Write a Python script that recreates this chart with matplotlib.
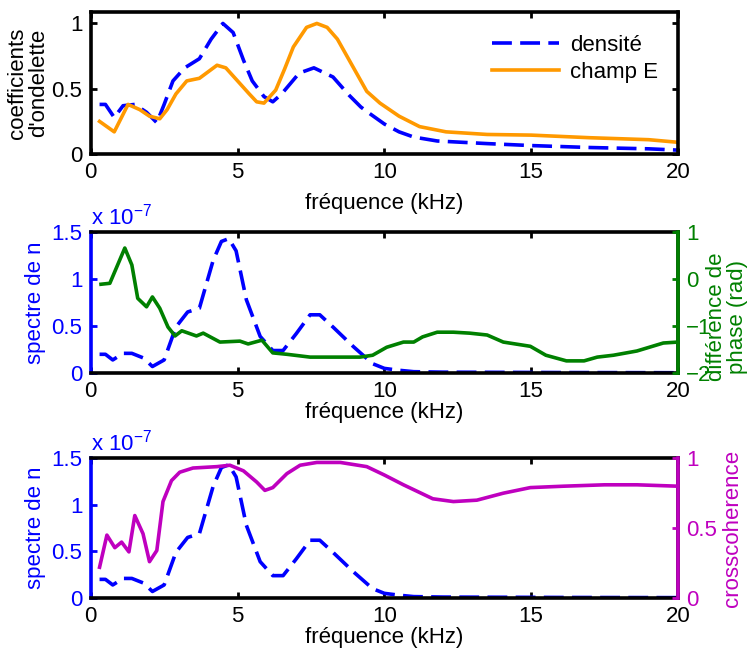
import matplotlib
matplotlib.use("Agg")
import matplotlib.pyplot as plt

plt.rcParams['font.family'] = ['Liberation Sans', 'DejaVu Sans']
plt.rcParams['mathtext.fontset'] = 'custom'
plt.rcParams['mathtext.rm'] = 'Liberation Sans'
plt.rcParams['mathtext.it'] = 'Liberation Sans'
FS = 16
plt.rcParams['font.size'] = FS

# ---------------- data ----------------
# top panel: wavelet coefficients (normalised)
f_dens = [0.3, 0.5, 0.8, 1.1, 1.5, 1.9, 2.25, 2.5, 2.8, 3.2, 3.7, 4.1, 4.5, 4.85, 5.2,
          5.5, 5.9, 6.2, 6.5, 7.1, 7.6, 8.25, 8.8, 9.2, 9.5, 10.0, 10.5, 11.0, 11.8,
          13.5, 15, 17, 19, 20]
dens = [0.38, 0.38, 0.28, 0.37, 0.38, 0.32, 0.24, 0.38, 0.56, 0.66, 0.73, 0.88, 1.0, 0.93,
        0.72, 0.56, 0.44, 0.40, 0.46, 0.62, 0.66, 0.59, 0.45, 0.36, 0.31, 0.23, 0.17, 0.13,
        0.10, 0.08, 0.065, 0.05, 0.04, 0.03]

f_E = [0.3, 0.8, 1.27, 1.67, 2.0, 2.35, 2.6, 2.9, 3.27, 3.7, 4.0, 4.3, 4.6, 5.08, 5.4,
       5.65, 5.9, 6.3, 6.6, 6.9, 7.35, 7.7, 8.05, 8.4, 8.8, 9.1, 9.4, 9.85, 10.5, 11.2,
       12.1, 13.5, 15, 17, 19, 20]
champE = [0.25, 0.17, 0.38, 0.34, 0.29, 0.27, 0.34, 0.46, 0.56, 0.58, 0.63, 0.68, 0.66,
          0.54, 0.46, 0.40, 0.39, 0.49, 0.65, 0.82, 0.97, 1.0, 0.97, 0.88, 0.72, 0.60,
          0.48, 0.39, 0.29, 0.21, 0.17, 0.15, 0.145, 0.125, 0.11, 0.09]

# density spectrum (x 1e-7), used in middle and bottom panels
f_n = [0.3, 0.5, 0.75, 1.1, 1.4, 1.8, 2.1, 2.5, 2.9, 3.3, 3.7, 4.17, 4.45, 4.7, 4.95,
       5.3, 5.77, 6.2, 6.55, 7.0, 7.47, 7.8, 8.25, 8.95, 9.6, 10.0, 10.5, 11, 12, 14, 16,
       18, 20]
spec_n = [0.2, 0.2, 0.14, 0.21, 0.21, 0.16, 0.07, 0.14, 0.49, 0.65, 0.69, 1.2, 1.4, 1.43,
          1.3, 0.78, 0.39, 0.24, 0.24, 0.42, 0.62, 0.62, 0.49, 0.28, 0.1, 0.05, 0.03,
          0.015, 0.01, 0.008, 0.006, 0.005, 0.004]

# phase difference (rad)
f_p = [0.35, 0.65, 1.16, 1.4, 1.6, 1.9, 2.1, 2.35, 2.63, 2.87, 3.1, 3.6, 3.83, 4.4, 5.08,
       5.36, 5.83, 6.2, 6.68, 7.47, 9.17, 9.6, 10.08, 10.65, 11.0, 11.3, 11.8, 12.35,
       12.9, 13.5, 14.05, 14.97, 15.5, 16.2, 16.8, 17.25, 17.8, 18.6, 19.5, 20]
phase = [-0.11, -0.09, 0.66, 0.30, -0.41, -0.59, -0.38, -0.62, -1.02, -1.21, -1.1, -1.21,
         -1.15, -1.34, -1.32, -1.38, -1.3, -1.57, -1.6, -1.66, -1.66, -1.62, -1.45, -1.34,
         -1.34, -1.23, -1.13, -1.13, -1.15, -1.19, -1.34, -1.43, -1.62, -1.74, -1.74,
         -1.66, -1.62, -1.53, -1.36, -1.34]

# crosscoherence
f_c = [0.3, 0.55, 0.82, 1.05, 1.3, 1.5, 1.78, 2.0, 2.25, 2.46, 2.75, 3.03, 3.48, 4.3,
       4.74, 5.2, 5.65, 5.93, 6.2, 6.68, 7.13, 7.7, 8.5, 9.4, 10.0, 10.65, 11.65, 12.35,
       13.15, 14.05, 14.97, 16.1, 17.5, 18.6, 20]
coh = [0.22, 0.45, 0.36, 0.40, 0.33, 0.59, 0.46, 0.26, 0.34, 0.69, 0.84, 0.90, 0.93, 0.94,
       0.95, 0.91, 0.83, 0.77, 0.79, 0.89, 0.95, 0.97, 0.97, 0.94, 0.88, 0.81, 0.71, 0.69,
       0.70, 0.75, 0.79, 0.80, 0.81, 0.81, 0.80]

xticks = [0, 5, 10, 15, 20]
xlabel = 'fréquence (kHz)'

BLUE = '#0000FF'
ORANGE = '#FF9900'
GREEN = '#008000'
MAGENTA = '#BF00BF'
LW = 2.6
SPW = 2.6
DASH = (5.5, 2.3)

fig = plt.figure(figsize=(7.5, 6.5), dpi=100)


def style_box(ax, lpad):
    for s in ax.spines.values():
        s.set_linewidth(SPW)
    ax.set_xlim(0, 20)
    ax.set_xticks(xticks)
    ax.set_xticklabels([str(t) for t in xticks])
    ax.tick_params(axis='x', direction='in', length=4, width=2, top=True,
                   labelsize=FS, pad=6)
    ax.set_xlabel(xlabel, fontsize=FS, labelpad=lpad)


# ---------- top panel ----------
ax1 = fig.add_axes([0.121, 0.763, 0.783, 0.218])
ax1.plot(f_dens, dens, color=BLUE, lw=LW, dashes=DASH, label='densité')
ax1.plot(f_E, champE, color=ORANGE, lw=LW, label='champ E')
style_box(ax1, 7)
ax1.set_ylim(0, 1.085)
ax1.set_yticks([0, 0.5, 1])
ax1.set_yticklabels(['0', '0.5', '1'])
ax1.tick_params(axis='y', direction='in', length=4, width=2, right=True, labelsize=FS,
                pad=6)
ax1.set_ylabel("coefficients\nd'ondelette", fontsize=FS, labelpad=2, linespacing=1.0)
leg = ax1.legend(loc='upper right', bbox_to_anchor=(1.0, 0.98), frameon=False,
                 handlelength=3.0, fontsize=FS, labelspacing=0.25, handletextpad=0.5)


def lower_panel(rect, right_color, rdata_x, rdata_y, rlim, rticks, rlabels):
    ax = fig.add_axes(rect)
    ax.plot(f_n, spec_n, color=BLUE, lw=LW, dashes=DASH)
    style_box(ax, 0)
    ax.set_ylim(0, 1.5)
    ax.set_yticks([0, 0.5, 1, 1.5])
    ax.set_yticklabels(['0', '0.5', '1', '1.5'])
    ax.tick_params(axis='y', direction='in', length=4, width=2, right=True,
                   colors=BLUE, labelsize=FS, pad=6)
    ax.spines['left'].set_color(BLUE)
    ax.set_ylabel('spectre de n', color=BLUE, fontsize=FS, labelpad=4)
    ax.text(0.0, 1.02, r'x 10$^{-7}$', transform=ax.transAxes, color=BLUE,
            fontsize=FS, ha='left', va='bottom')
    ax2 = ax.twinx()
    ax2.plot(rdata_x, rdata_y, color=right_color, lw=LW)
    ax2.set_xlim(0, 20)
    ax2.set_ylim(*rlim)
    ax2.set_yticks(rticks)
    ax2.set_yticklabels(rlabels)
    ax2.tick_params(axis='y', direction='in', length=4, width=2, colors=right_color,
                    labelsize=FS, pad=6)
    for s in ax2.spines.values():
        s.set_visible(False)
    ax2.spines['right'].set_visible(True)
    ax2.spines['right'].set_color(right_color)
    ax2.spines['right'].set_linewidth(SPW)
    return ax, ax2


ax_m, ax_m2 = lower_panel([0.121, 0.426, 0.783, 0.217], GREEN, f_p, phase, (-2, 1),
                          [-2, -1, 0, 1], ['\u22122', '\u22121', '0', '1'])
ax_m.text(1.083, 0.40, 'différence de\nphase (rad)', transform=ax_m.transAxes,
          rotation=90, ha='center', va='center', color=GREEN, fontsize=FS,
          multialignment='center', linespacing=1.0)

ax_b, ax_b2 = lower_panel([0.121, 0.080, 0.783, 0.215], MAGENTA, f_c, coh, (0, 1),
                          [0, 0.5, 1], ['0', '0.5', '1'])
ax_b.text(1.093, 0.5, 'crosscoherence', transform=ax_b.transAxes,
          rotation=90, ha='center', va='center', color=MAGENTA, fontsize=FS)

fig.savefig('out.png', dpi=100)
